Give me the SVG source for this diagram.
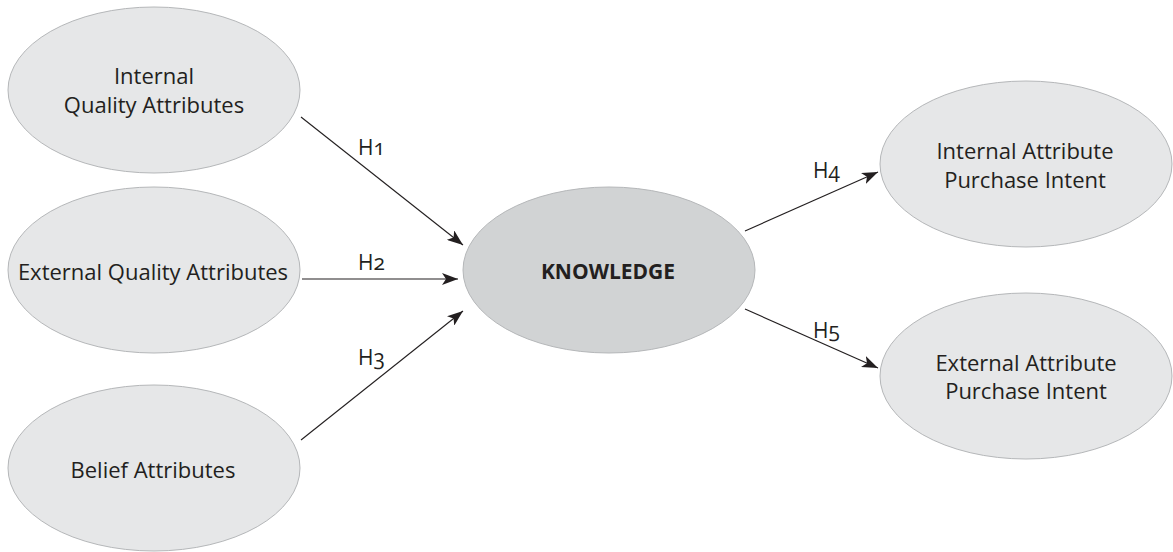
<svg xmlns="http://www.w3.org/2000/svg" width="1173" height="552" viewBox="0 0 1173 552">
<defs>
<marker id="arr" viewBox="0 0 16 12" refX="16" refY="6" markerWidth="16" markerHeight="12" markerUnits="userSpaceOnUse" orient="auto">
<path d="M0,0 L16,6 L0,12 L4,6 Z" fill="#231f20"/>
</marker>
<style>
.n{fill:#e6e7e8;stroke:#b5b7b9;stroke-width:1}
.k{fill:#d1d3d4;stroke:#b5b7b9;stroke-width:1}
.t{font-family:"Open Sans","Liberation Sans",sans-serif;font-size:22px;fill:#231f20;text-anchor:middle}
.b{font-weight:bold;font-size:21px}
.l{font-family:"Open Sans","Liberation Sans",sans-serif;font-size:21px;fill:#231f20;font-variant-numeric:oldstyle-nums}
.c{stroke:#231f20;stroke-width:1.1;fill:none;marker-end:url(#arr)}
</style>
</defs>
<rect width="1173" height="552" fill="#ffffff"/>
<g id="internal-quality">
<ellipse class="n" cx="154" cy="90" rx="146" ry="83"/>
<text class="t" x="154" y="84">Internal</text>
<text class="t" x="154" y="113">Quality Attributes</text>
</g>
<g id="external-quality">
<ellipse class="n" cx="154" cy="270" rx="146" ry="83"/>
<text class="t" x="153" y="280">External Quality Attributes</text>
</g>
<g id="belief">
<ellipse class="n" cx="154" cy="468" rx="146" ry="83"/>
<text class="t" x="153" y="478">Belief Attributes</text>
</g>
<g id="knowledge">
<ellipse class="k" cx="609" cy="270" rx="146" ry="83"/>
<text class="t b" x="608" y="279">KNOWLEDGE</text>
</g>
<g id="internal-intent">
<ellipse class="n" cx="1026" cy="164" rx="146" ry="83"/>
<text class="t" x="1025" y="159">Internal Attribute</text>
<text class="t" x="1025" y="188">Purchase Intent</text>
</g>
<g id="external-intent">
<ellipse class="n" cx="1026" cy="376" rx="146" ry="83"/>
<text class="t" x="1026" y="371">External Attribute</text>
<text class="t" x="1026" y="399">Purchase Intent</text>
</g>
<g id="connectors">
<line class="c" x1="301" y1="117" x2="463" y2="245"/>
<line class="c" x1="302" y1="279" x2="458" y2="279"/>
<line class="c" x1="301" y1="440" x2="463" y2="311"/>
<line class="c" x1="745" y1="231" x2="878" y2="172"/>
<line class="c" x1="745" y1="309" x2="878" y2="368"/>
<text class="l" x="358" y="155">H1</text>
<text class="l" x="358" y="270">H2</text>
<text class="l" x="358" y="365">H3</text>
<text class="l" x="813" y="178">H4</text>
<text class="l" x="813" y="338">H5</text>
</g>
</svg>
